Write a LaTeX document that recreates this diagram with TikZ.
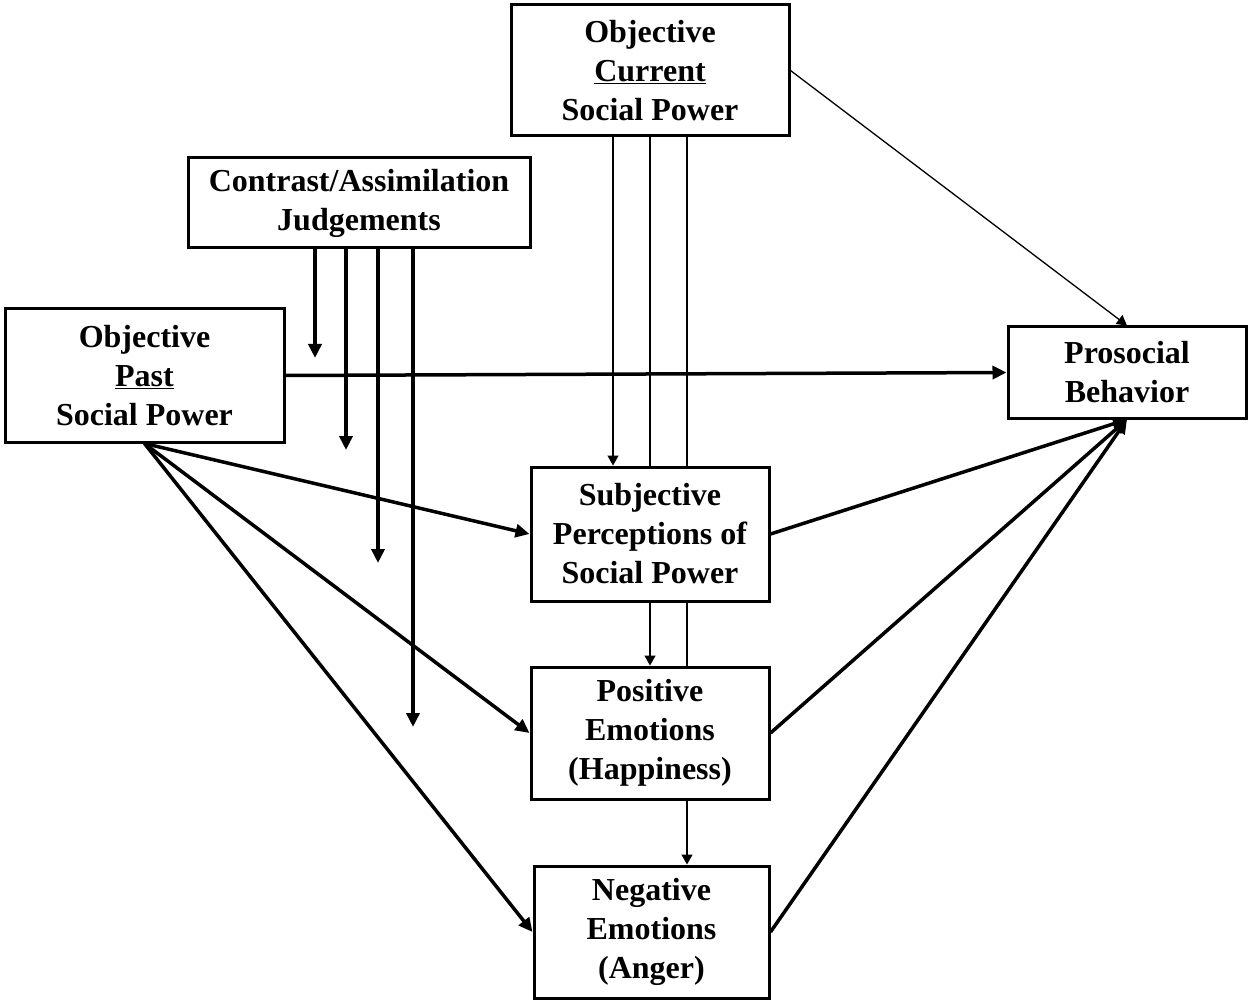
\documentclass[tikz,border=0pt]{standalone}
\usepackage{fontspec}
\setmainfont{Liberation Serif}
\usetikzlibrary{arrows.meta,backgrounds}
\begin{document}
\begin{tikzpicture}[x=1pt,y=-1pt,
  box/.style={draw,line width=3pt,fill=white,rectangle,inner sep=0pt,align=center,
    font=\fontsize{32}{39}\selectfont\bfseries},
  thickarr/.style={line width=3.5pt,-{Triangle[length=14pt,width=13pt]}},
  thinarr/.style={line width=1.3pt,-{Triangle[length=10pt,width=11pt]}},
  thinline/.style={line width=1.3pt}]
\useasboundingbox (0,0) rectangle (1248,1000);
\node[box,minimum width=278pt,minimum height=131pt] (cur) at (650,70.5) {Objective\\\underline{Current}\\Social Power};
\node[box,minimum width=342pt,minimum height=90pt] (con) at (359,203) {Contrast/Assimilation\\Judgements};
\node[box,minimum width=279pt,minimum height=133pt] (past) at (144.5,375.5) {Objective\\\underline{Past}\\Social Power};
\node[box,minimum width=238pt,minimum height=91pt] (pro) at (1127,372.5) {Prosocial\\Behavior};
\node[box,minimum width=238pt,minimum height=134pt] (subj) at (650,534) {Subjective\\Perceptions of\\Social Power};
\node[box,minimum width=238pt,minimum height=132pt] (pos) at (650,733) {Positive\\Emotions\\(Happiness)};
\node[box,minimum width=235pt,minimum height=132pt] (neg) at (651.5,932) {Negative\\Emotions\\(Anger)};
\coordinate (c1) at (315,358);
\coordinate (c2) at (346,450);
\coordinate (c3) at (378,563);
\coordinate (c4) at (413,727);
\begin{scope}[on background layer]
\draw[thinarr] ([xshift=-37pt]cur.south) -- ([xshift=-37pt]subj.north);
\draw[thinarr] (cur.south) -- (pos.north);
\draw[thinarr] ([xshift=37pt]cur.south) -- ([xshift=37pt]cur.south |- neg.north);
\draw[thinarr] (cur.east) -- (pro.north);
\draw[thickarr] (past.east) -- (pro.west);
\draw[thickarr] (past.south) -- (subj.west);
\draw[thickarr] (past.south) -- (pos.west);
\draw[thickarr] (past.south) -- (neg.west);
\draw[thickarr] (subj.east) -- (pro.south);
\draw[thickarr] (pos.east) -- (pro.south);
\draw[thickarr] (neg.east) -- (pro.south);
\draw[thickarr] (con.south -| c1) -- (c1);
\draw[thickarr] (con.south -| c2) -- (c2);
\draw[thickarr] (con.south -| c3) -- (c3);
\draw[thickarr] (con.south -| c4) -- (c4);
\end{scope}
\end{tikzpicture}
\end{document}
